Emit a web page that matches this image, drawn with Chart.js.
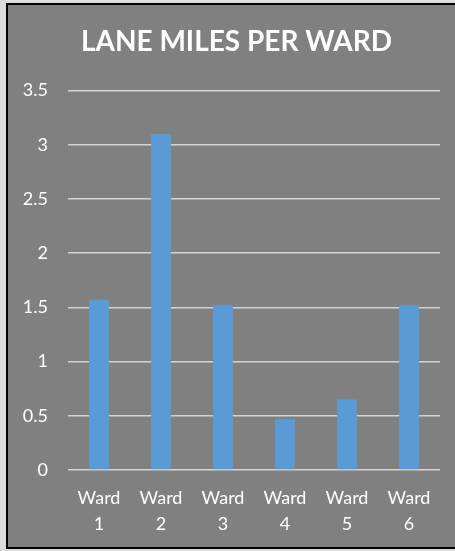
<!DOCTYPE html>
<html>
<head>
<meta charset="utf-8">
<script src="https://cdn.jsdelivr.net/npm/chart.js@4"></script>
<style>
  html, body { margin: 0; padding: 0; background: #dcdcdc; overflow: hidden; }
  #frame {
    position: absolute;
    left: 6px;
    top: 3px;
    width: 459px;
    height: 546px;
    box-sizing: border-box;
    border: 2px solid #000;
    border-right: none;
    background: #808080;
  }
  #wrap { position: relative; width: 457px; height: 542px; }
</style>
</head>
<body>
<div id="frame"><div id="wrap"><canvas id="chart"></canvas></div></div>
<script>
const CHART_TITLE = "LANE MILES PER WARD";
const wards = ["Ward 1", "Ward 2", "Ward 3", "Ward 4", "Ward 5", "Ward 6"];
const laneMiles = [1.57, 3.1, 1.52, 0.47, 0.65, 1.52];
const yTicks = [0, 0.5, 1, 1.5, 2, 2.5, 3, 3.5];

const FONT = "Lato, 'Open Sans', sans-serif";

const ctx = document.getElementById("chart").getContext("2d");

const laneChart = new Chart(ctx, {
  type: "bar",
  data: {
    labels: wards.map((w) => w.split(" ")),
    datasets: [
      {
        label: "Lane Miles",
        data: laneMiles,
        backgroundColor: "#5b9bd5",
        borderWidth: 0,
        barPercentage: 0.32,
        categoryPercentage: 1,
        yAxisID: "y",
      },
    ],
  },
  options: {
    responsive: true,
    maintainAspectRatio: false,
    animation: false,
    layout: {
      padding: 0,
    },
    plugins: {
      legend: { display: false },
      tooltip: { enabled: false },
      title: {
        display: true,
        text: CHART_TITLE,
        color: "#ffffff",
        font: { family: FONT, size: 28, weight: "bold" },
        padding: { top: 20, bottom: 32 },
      },
    },
    scales: {
      x: {
        grid: { display: false },
        border: { display: false },
        ticks: {
          color: "#ffffff",
          font: { family: FONT, size: 18, lineHeight: 1.45 },
          padding: 7,
          maxRotation: 0,
          autoSkip: false,
        },
        afterFit: (scale) => {
          scale.height = 77;
        },
      },
      y: {
        min: 0,
        max: 3.5,
        afterBuildTicks: (scale) => {
          scale.ticks = yTicks.map((v) => ({ value: v }));
        },
        grid: { color: "#d4d4d4", lineWidth: 1.5, drawTicks: false },
        border: { display: false },
        ticks: {
          color: "#ffffff",
          font: { family: FONT, size: 18 },
          padding: 20,
          callback: (value) => String(value),
        },
        afterFit: (scale) => {
          scale.width = 60;
        },
      },
      // empty right-hand spacer so the plot ends where the original does
      spacer: {
        type: "linear",
        position: "right",
        grid: { display: false },
        border: { display: false },
        ticks: { display: false },
        afterFit: (scale) => {
          scale.width = 25;
        },
      },
    },
  },
});
</script>
</body>
</html>
